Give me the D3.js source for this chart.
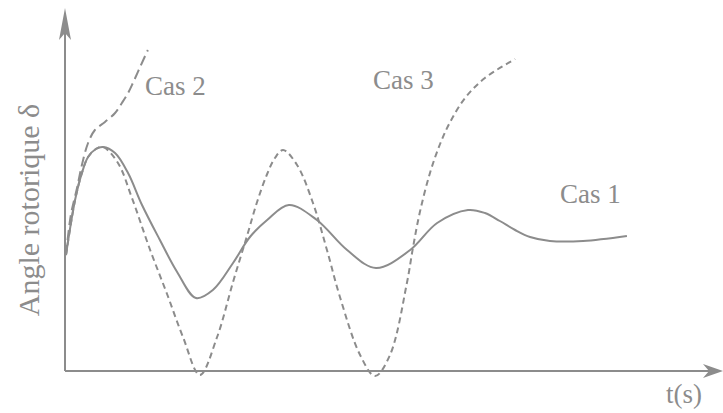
<!DOCTYPE html>
<html>
<head>
<meta charset="utf-8">
<script src="https://cdn.jsdelivr.net/npm/d3@7"></script>
<style>
  html, body { margin: 0; padding: 0; background: #fff; }
  svg { display: block; }
  text { font-family: "Liberation Serif", "DejaVu Serif", serif; fill: #8c8c8c; }
</style>
</head>
<body>
<svg id="chart" width="723" height="413"></svg>
<script>
// Time (s)
const cas1T = [0.003, 0.031, 0.052, 0.071, 0.095, 0.117, 0.154, 0.194, 0.237, 0.292, 0.345, 0.403, 0.455, 0.517, 0.569, 0.622, 0.689, 0.775, 0.868, 0.957, 1.062, 1.145, 1.240, 1.292, 1.338, 1.385, 1.431, 1.492, 1.594, 1.729];
// Rotor angle δ (deg)
const cas1D = [58, 85.5, 99, 107, 111, 112, 109, 99, 83, 65.5, 49.5, 36.5, 40.5, 54, 67, 75.5, 83, 75.5, 60.5, 51.5, 60.5, 74, 80.5, 79, 75, 70.5, 67, 65, 65, 67.5];

const cas2T = [0.003, 0.018, 0.037, 0.052, 0.071, 0.092, 0.123, 0.154, 0.175, 0.194, 0.209, 0.231, 0.255];
const cas2D = [58, 78, 91.5, 103, 114, 120.5, 124.5, 129, 134, 139, 144, 152, 160.5];

const cas3T = [0.003, 0.031, 0.052, 0.071, 0.095, 0.117, 0.163, 0.206, 0.262, 0.314, 0.363, 0.415, 0.468, 0.517, 0.560, 0.591, 0.622, 0.646, 0.671, 0.714, 0.763, 0.806, 0.846, 0.908, 0.954, 1.000, 1.052, 1.071, 1.092, 1.123, 1.154, 1.185, 1.231, 1.292, 1.385];
const cas3D = [58, 85.5, 99, 107, 111, 112, 104, 86.5, 60.5, 38.5, 17, -2, 17, 44.5, 67.5, 84.5, 98.5, 106.5, 110.5, 103, 84, 60.5, 37, 8, -2.5, 8, 44, 62, 79.5, 99, 113.5, 124.5, 136.5, 146.5, 156];

const seriesNames = ["Cas 1", "Cas 2", "Cas 3"];
const axisLabelY = "Angle rotorique δ";
const axisLabelX = "t(s)";

const W = 723, H = 413;
const grey = "#8c8c8c";
const svg = d3.select("#chart");

const x = d3.scaleLinear().domain([0, 2]).range([65, 715]);
const y = d3.scaleLinear().domain([0, 180]).range([371, 11]);

const line = d3.line()
  .x(d => x(d[0]))
  .y(d => y(d[1]))
  .curve(d3.curveCatmullRom.alpha(0.5));

const zip = (a, b) => a.map((v, i) => [v, b[i]]);

// axes
const x0 = x(0), y0 = y(0);
const g = svg.append("g");
g.append("line").attr("x1", x0).attr("x2", W - 4).attr("y1", y0).attr("y2", y0)
  .attr("stroke", grey).attr("stroke-width", 2);
g.append("line").attr("x1", x0).attr("x2", x0).attr("y1", y0).attr("y2", 14)
  .attr("stroke", grey).attr("stroke-width", 2);
// arrowheads
g.append("path")
  .attr("d", `M${x0},8 L${x0 + 6},40 L${x0},33 L${x0 - 6},40 Z`)
  .attr("fill", grey);
g.append("path")
  .attr("d", `M${W},${y0} L${W - 20},${y0 + 7} L${W - 14},${y0} L${W - 20},${y0 - 7} Z`)
  .attr("fill", grey);

// series
svg.append("path").datum(zip(cas1T, cas1D)).attr("d", line)
  .attr("fill", "none").attr("stroke", grey).attr("stroke-width", 2);
svg.append("path").datum(zip(cas2T, cas2D)).attr("d", line)
  .attr("fill", "none").attr("stroke", grey).attr("stroke-width", 2)
  .attr("stroke-dasharray", "10,5");
svg.append("path").datum(zip(cas3T, cas3D)).attr("d", line)
  .attr("fill", "none").attr("stroke", grey).attr("stroke-width", 2)
  .attr("stroke-dasharray", "6,4");

// labels
const fs = 27;
svg.append("text").attr("x", 560).attr("y", 203).attr("font-size", fs).text(seriesNames[0]);
svg.append("text").attr("x", 145).attr("y", 95).attr("font-size", fs).text(seriesNames[1]);
svg.append("text").attr("x", 373).attr("y", 89).attr("font-size", fs).text(seriesNames[2]);
svg.append("text").attr("x", 666).attr("y", 403).attr("font-size", fs).text(axisLabelX);
svg.append("text").attr("transform", "translate(39,210) rotate(-90)")
  .attr("text-anchor", "middle").attr("font-size", 30).text(axisLabelY);
</script>
</body>
</html>
